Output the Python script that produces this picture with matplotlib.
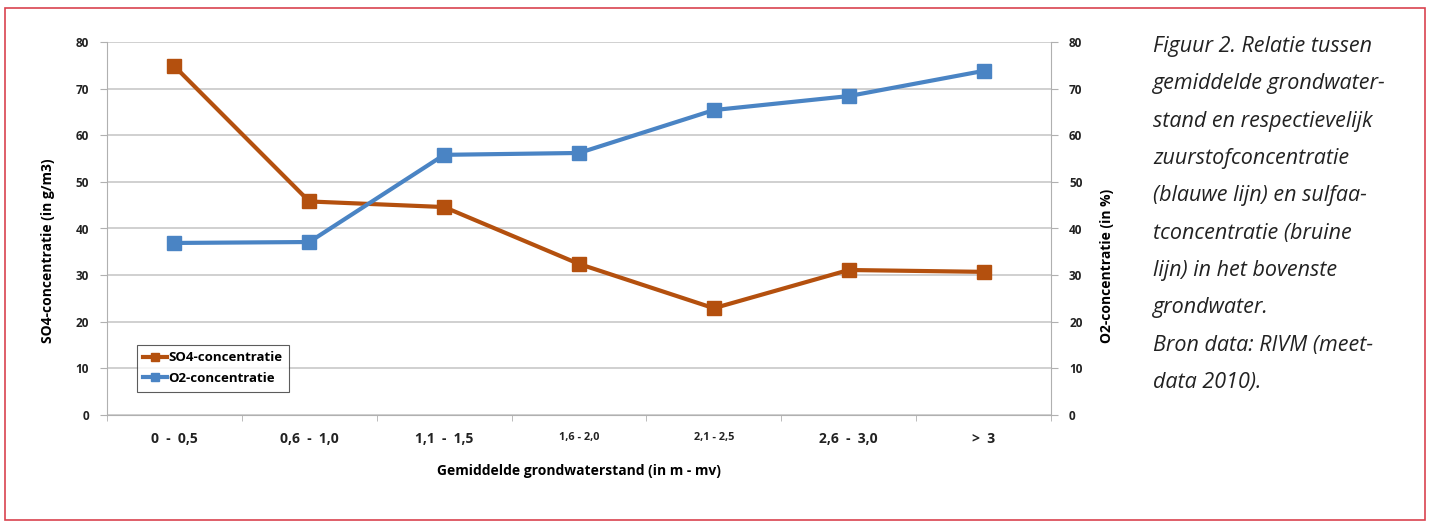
import matplotlib
matplotlib.use("Agg")
import matplotlib.pyplot as plt
from matplotlib.patches import Rectangle

categories = ["0  -  0,5", "0,6  -  1,0", "1,1  -  1,5", "1,6 - 2,0", "2,1 - 2,5", "2,6  -  3,0", ">  3"]
so4 = [74.8, 45.8, 44.6, 32.4, 22.9, 31.1, 30.7]
o2 = [36.9, 37.1, 55.8, 56.2, 65.4, 68.4, 73.8]
yticks = [0, 10, 20, 30, 40, 50, 60, 70, 80]

caption = ("Figuur 2. Relatie tussen\ngemiddelde grondwater-\nstand en respectievelijk\n"
           "zuurstofconcentratie\n(blauwe lijn) en sulfaa-\ntconcentratie (bruine\n"
           "lijn) in het bovenste\ngrondwater.\nBron data: RIVM (meet-\ndata 2010).")

plt.rcParams['font.family'] = ['Open Sans', 'DejaVu Sans']

W, H = 1429, 526
fig = plt.figure(figsize=(W / 100, H / 100), dpi=100)

# red frame
fig.patches.append(Rectangle((5 / W, 1 - 520 / H), 1420 / W, 512 / H, transform=fig.transFigure,
                             fill=False, edgecolor="#d9434f", linewidth=1.2))

ax = fig.add_axes([107 / W, 1 - 415 / H, (1051 - 107) / W, (415 - 42) / H])
ax2 = ax.twinx()

brown = "#b4500e"
blue = "#4a84c4"
x = list(range(len(categories)))
ax.plot(x, so4, color=brown, lw=3, marker="s", ms=9.5, label="SO4-concentratie", zorder=3)
ax.plot(x, o2, color=blue, lw=3, marker="s", ms=9.5, label="O2-concentratie", zorder=3)

ax.set_xlim(-0.5, len(categories) - 0.5)
ax.set_ylim(0, 80)
ax2.set_ylim(0, 80)
ax.set_yticks(yticks)
ax2.set_yticks(yticks)
ax.grid(axis="y", color="#c8c8c8", lw=1.2)
ax.set_axisbelow(True)

for a in (ax, ax2):
    for s in a.spines.values():
        s.set_visible(False)
ax.spines["left"].set_visible(True)
ax.spines["left"].set_color("#b0b0b0")
ax.spines["bottom"].set_visible(True)
ax.spines["bottom"].set_color("#b0b0b0")
ax2.spines["right"].set_visible(True)
ax2.spines["right"].set_color("#b0b0b0")

ax.set_xticks(x)
ax.set_xticklabels(categories)
ax.set_xticks([i - 0.5 for i in range(len(categories) + 1)], minor=True)
ax.tick_params(axis="x", which="major", length=0, pad=12)
ax.tick_params(axis="x", which="minor", length=4, color="#b0b0b0")
for lab in ax.get_xticklabels():
    lab.set_fontweight("bold")
    lab.set_fontsize(10)
    lab.set_color("#222222")
for i in (3, 4):
    ax.get_xticklabels()[i].set_fontsize(7.8)

ax.tick_params(axis="y", length=5, color="#b0b0b0", labelsize=8.5, pad=8)
ax2.tick_params(axis="y", length=5, color="#b0b0b0", labelsize=8.5, pad=8)
for lab in ax.get_yticklabels() + ax2.get_yticklabels():
    lab.set_fontweight("bold")
    lab.set_color("#222222")

ax.set_ylabel("SO4-concentratie (in g/m3)", fontsize=10, fontweight="bold")
ax.yaxis.set_label_coords(-0.055, 0.44)
ax2.set_ylabel("O2-concentratie (in %)", fontsize=10, fontweight="bold")
ax2.yaxis.set_label_coords(1.052, 0.40)
ax.set_xlabel("Gemiddelde grondwaterstand (in m - mv)", fontsize=10, fontweight="bold", labelpad=13)

leg = ax.legend(loc="upper left", bbox_to_anchor=(23 / 944, (415 - 338) / 373), fontsize=9.5,
                frameon=True, fancybox=False, edgecolor="#333333", handlelength=1.8,
                handletextpad=0.1, borderpad=0.5, labelspacing=0.6, markerscale=0.55)
leg.get_frame().set_linewidth(0.8)
for t in leg.get_texts():
    t.set_fontweight("bold")

fig.text(1153 / W, 1 - 36 / H, caption, fontsize=15.5, style="italic", color="#222222",
         va="top", ha="left", linespacing=2.02, family=["Open Sans", "DejaVu Sans"])

fig.savefig("out.png", dpi=100)
